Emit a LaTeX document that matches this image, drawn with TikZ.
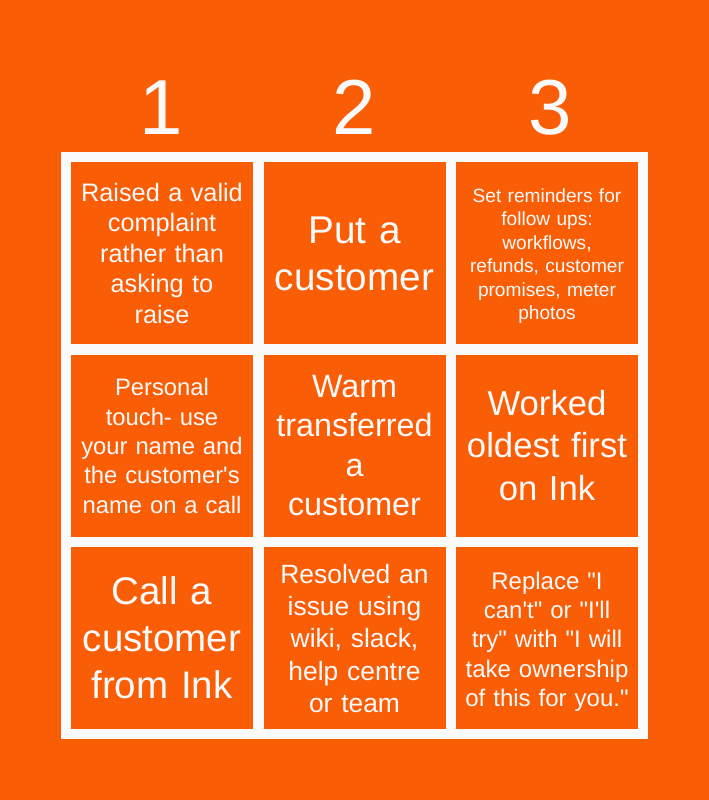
\documentclass[tikz,border=0pt]{standalone}
\usepackage{fontspec}
\setmainfont{Liberation Sans}[Ligatures=TeXOff]
\definecolor{bgorange}{HTML}{F95E07}
\definecolor{gridwhite}{HTML}{FAFAFA}
\tikzset{
  cellbox/.style={fill=bgorange, draw=none},
  celltext/.style={text=gridwhite, align=center, inner sep=0pt, text width=178pt},
  headnum/.style={text=gridwhite, inner sep=0pt, anchor=base, font=\fontsize{78}{80}\selectfont},
}
\newcommand{\fsz}[2]{\fontsize{#1}{#2}\selectfont}
\begin{document}
\begin{tikzpicture}[x=1pt,y=-1pt]
\useasboundingbox (0,0) rectangle (709,800);
\fill[bgorange] (0,0) rectangle (709,800);
\fill[gridwhite] (61,152) rectangle (648,739);
% header
\node[headnum] (h1) at (161,134) {1};
\node[headnum] (h2) at (354,134) {2};
\node[headnum] (h3) at (550,134) {3};
% cells
\foreach \cx in {71,263.5,456}{
  \foreach \cy in {162,354.5,547}{
    \fill[cellbox] (\cx,\cy) rectangle ++(182,182);
  }
}
% row 1
\node[celltext, font=\fsz{25.3}{30.5}] (c11) at (162,253) {Raised a valid\\complaint\\rather than\\asking to\\raise};
\node[celltext, font=\fsz{38.7}{47}] (c12) at (354.5,254) {Put a\\customer};
\node[celltext, font=\fsz{19.1}{23.4}] (c13) at (547,256) {Set reminders for\\follow ups:\\workflows,\\refunds, customer\\promises, meter\\photos};
% row 2
\node[celltext, font=\fsz{23.8}{29.3}] (c21) at (162,446) {Personal\\touch- use\\your name and\\the customer's\\name on a call};
\node[celltext, font=\fsz{32.3}{39.3}] (c22) at (354.5,445.5) {Warm\\transferred\\a\\customer};
\node[celltext, font=\fsz{34.7}{42.5}] (c23) at (547,445.5) {Worked\\oldest first\\on Ink};
% row 3
\node[celltext, font=\fsz{38.5}{47}] (c31) at (162,638) {Call a\\customer\\from Ink};
\node[celltext, font=\fsz{26.4}{32.2}] (c32) at (354.5,638.5) {Resolved an\\issue using\\wiki, slack,\\help centre\\or team};
\node[celltext, font=\fsz{24}{29.3}] (c33) at (547,641.5) {Replace "I\\can't" or "I'll\\try" with "I will\\take ownership\\of this for you."};
\end{tikzpicture}
\end{document}
